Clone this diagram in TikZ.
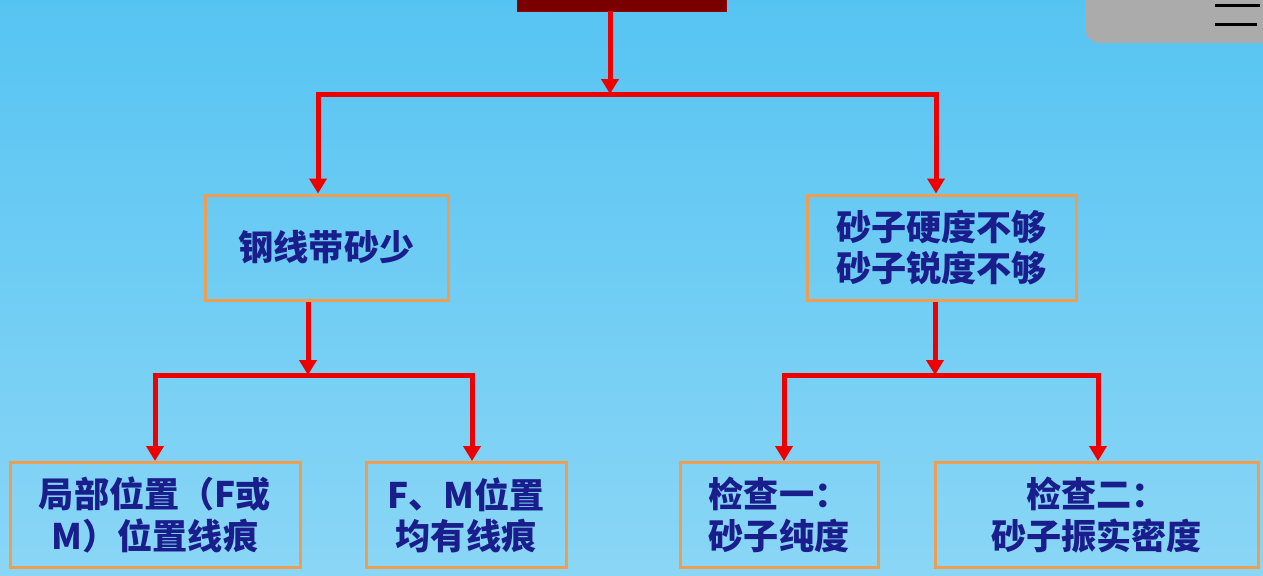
\documentclass[tikz,border=0pt]{standalone}
\usepackage{fontspec}
\newfontfamily\cjk{Noto Sans CJK SC}
\definecolor{skytop}{RGB}{86,196,242}
\definecolor{skybot}{RGB}{138,214,246}
\definecolor{linered}{RGB}{238,0,0}
\definecolor{boxedge}{RGB}{238,158,82}
\definecolor{textblue}{RGB}{25,30,140}
\definecolor{darkred}{RGB}{122,0,0}
\definecolor{menugray}{RGB}{171,171,171}
\usetikzlibrary{arrows.meta,calc,positioning}
\tikzstyle{every node}+=[inner sep=0.5mm,font=\cjk\bfseries\fontsize{20}{23.5}\selectfont,text=textblue]
\tikzstyle{cause}=[draw=boxedge,line width=0.6mm,align=center,minimum height=21mm]
\tikzstyle{feed}=[draw=linered,line width=1mm,line join=miter]
\tikzstyle{feedarrow}=[feed,-{Triangle[width=3.4mm,length=3mm]}]

\begin{document}
\begin{tikzpicture}[x=0.2mm,y=-0.2mm]
    \newcommand{\unit}{0.2mm}

    % sky background
    \useasboundingbox (0,0) rectangle (1263,575);
    \fill[top color=skytop,bottom color=skybot] (0,0) rectangle (1263,575);

    % menu button top right
    \fill[menugray,rounded corners=15*\unit] (1085,-30) rectangle (1300,43);
    \draw[black,line width=3*\unit] (1215,5) -- (1260,5) (1215,24) -- (1257,24);

    % title box, cut off by the top edge
    \node[fill=darkred,draw=darkred!80!red,minimum width=209*\unit,minimum height=22*\unit] (top) at (621.5,0) {};

    % causes
    \node[cause,minimum width=243*\unit] (sand) at (326.5,247.5) {钢线带砂少};
    \node[cause,minimum width=269*\unit] (hard) at (941.5,247.5) {砂子硬度不够\\砂子锐度不够};

    % checks
    \node[cause,minimum width=290*\unit] (part) at (155,515) {局部位置（F或\\M）位置线痕};
    \node[cause,minimum width=200*\unit] (both) at (466,515) {F、M位置\\均有线痕};
    \node[cause,minimum width=198*\unit] (pure) at (779,515) {检查一：\\砂子纯度};
    \node[cause,minimum width=323*\unit] (dense) at (1096.5,515) {检查二：\\砂子振实密度};

    % branch points
    \coordinate (j0) at (610,94);
    \coordinate (l0) at (318,94);
    \coordinate (r0) at (936,94);
    \coordinate (j1) at (308,375);
    \coordinate (l1) at (155,375);
    \coordinate (r1) at (472,375);
    \coordinate (j2) at (935,375);
    \coordinate (l2) at (784,375);
    \coordinate (r2) at (1098,375);

    % top level
    \draw[feedarrow] (top.south -| j0) -- (j0);
    \draw[feedarrow] (j0) -- (l0) -- (l0 |- sand.north);
    \draw[feedarrow] (j0) -- (r0) -- (r0 |- hard.north);

    % left branch
    \draw[feedarrow] (sand.south -| j1) -- (j1);
    \draw[feedarrow] (j1) -- (l1) -- (l1 |- part.north);
    \draw[feedarrow] (j1) -- (r1) -- (r1 |- both.north);

    % right branch
    \draw[feedarrow] (hard.south -| j2) -- (j2);
    \draw[feedarrow] (j2) -- (l2) -- (l2 |- pure.north);
    \draw[feedarrow] (j2) -- (r2) -- (r2 |- dense.north);
\end{tikzpicture}
\end{document}
